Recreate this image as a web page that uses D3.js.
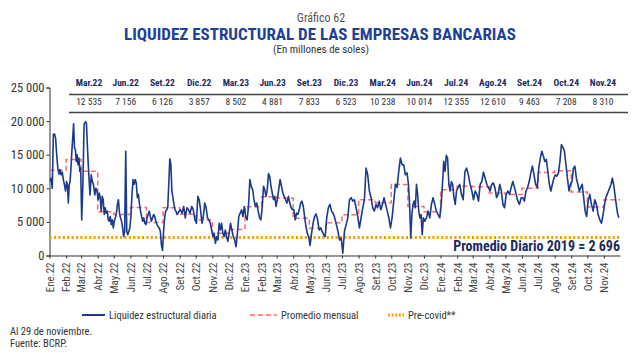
<!DOCTYPE html>
<html>
<head>
<meta charset="utf-8">
<script src="https://cdn.jsdelivr.net/npm/d3@7"></script>
<style>
  body { margin: 0; background: #fff; }
  svg text { font-family: "Liberation Sans Narrow", "Roboto Condensed", "Open Sans", sans-serif; }
</style>
</head>
<body>
<div id="chart"></div>
<script>
// month names used for the x-axis labels
const monthNames = ["Ene", "Feb", "Mar", "Abr", "May", "Jun", "Jul", "Ago", "Set", "Oct", "Nov", "Dic"];

// table on top of the chart
const tableMonths = ["Mar.22", "Jun.22", "Set.22", "Dic.22", "Mar.23", "Jun.23", "Set.23", "Dic.23",
  "Mar.24", "Jun.24", "Jul.24", "Ago.24", "Set.24", "Oct.24", "Nov.24"];
const tableValues = [12535, 7156, 6126, 3857, 8502, 4881, 7833, 6523, 10238, 10014, 12355, 12610, 9463, 7208, 8310];

// Promedio mensual, Ene.22 .. Nov.24
const monthlyAvg = [12700, 14300, 12535, 6500, 6100, 7156, 4900, 7100, 6126, 5300, 3300, 3857,
  7260, 8750, 8502, 5530, 4050, 4881, 6075, 8300, 7833, 10560, 7300, 6523,
  9800, 10300, 10238, 9300, 9060, 10014, 12355, 12610, 9463, 7208, 8310];

// Liquidez estructural diaria, one list per month
const daily = [
  [11000, 11500, 10000, 18000, 18100, 17500, 15000, 13000, 12100, 12800, 12000, 12400, 11300, 10500, 9600],
  [11000, 10500, 7800, 10500, 11000, 13000, 15500, 17500, 19600, 16000, 15800, 14000, 15000, 13500, 14500, 12500, 13000],
  [5300, 10500, 19500, 19900, 19700, 15500, 12000, 9000, 12000, 11000, 10500, 9000, 10000, 9500],
  [8300, 9300, 8600, 6600, 8800, 8300, 6100, 7100, 6300, 6600, 5300, 5100, 5800, 4600, 5300, 4100],
  [5100, 5600, 6300, 7600, 8300, 6300, 5600, 5100, 4100, 2800, 3600, 15500, 3600, 3100, 3600, 4100],
  [5800, 9100, 11300, 10600, 11300, 10800, 8600, 9100, 7600, 6600, 5800, 5100, 5600, 4800, 4600],
  [5600, 6100, 6600, 5800, 5100, 5600, 6100, 5800, 5100, 4600, 4300, 4100, 3600, 1600, 750],
  [3600, 5600, 6600, 6800, 7100, 10600, 14400, 13600, 9600, 8600, 7600, 6800, 6600, 6100, 6300, 6600],
  [6800, 6300, 7300, 5600, 7100, 6800, 6300, 7300, 6800, 5300],
  [4800, 8800, 8300, 6800, 4800, 5800, 7800, 7100, 5600, 5300, 4800, 3800],
  [2800, 3300, 1800, 2800, 2300, 4800, 3800, 4800, 3300, 2800, 3800, 2800, 2100],
  [3300, 4800, 3800, 2800, 2300, 1300, 3300, 5800, 6300, 6800, 5800, 7300],
  [5800, 5300, 7300, 11300, 10300, 9800, 8300, 7300, 7800, 6600, 5600, 5300],
  [7300, 10300, 9800, 8800, 9800, 12200, 11700, 10300, 9300, 8300, 8800, 7300],
  [8300, 9800, 11300, 10300, 9300, 8800, 8300, 7800, 8800, 7800, 7100, 6800],
  [6800, 5300, 6300, 6100, 6800, 7800, 8100, 7300, 5800, 4300, 3300, 2800],
  [1500, 3300, 4800, 5800, 6200, 5300, 3800, 4100, 3600, 3100, 2800],
  [5600, 7100, 7600, 6600, 6300, 5600, 4600, 3600, 2300, 2600],
  [350, 3600, 4600, 5600, 8300, 8600, 8100, 8300, 7100, 5800],
  [4100, 5600, 7100, 8300, 13000, 12000, 9600, 8600, 7100, 6600],
  [7600, 7100, 8100, 6800, 7600, 8600, 7600, 6600, 5600, 4100],
  [5600, 8100, 10600, 10100, 12500, 14500, 13500, 13500, 12000, 12300],
  [10600, 7600, 2600, 6100, 7600, 8100, 7100, 10600, 9100, 6600, 5600, 6100, 3100, 5600],
  [5100, 5600, 6600, 5600, 7600, 8600, 7600, 6600, 6100, 5600],
  [7600, 10600, 14000, 12500, 14900, 14500, 10600, 9600, 11000, 10600, 8600, 7600, 9600],
  [10100, 10600, 9100, 8300, 12500, 13000, 12000, 10600, 9600],
  [8300, 9600, 9100, 8100, 10600, 11000, 12400, 11500, 10600, 10100],
  [9600, 10600, 10800, 10100, 8600, 9100, 10600, 9600, 7600, 7100],
  [9100, 9600, 9100, 10100, 11000, 10100, 9100, 8100, 7600, 8600],
  [8600, 8100, 9600, 10100, 11000, 12300, 13300, 12000, 10600, 10100],
  [13000, 14500, 15500, 14800, 14000, 14300, 12500, 10600, 9600, 10600, 11500],
  [12000, 11800, 12300, 14000, 16500, 16100, 15500, 13500, 11500, 9600, 10600],
  [11000, 13000, 13300, 11500, 10600, 9600, 10100, 10600, 8600, 6600, 5800],
  [8100, 9100, 7600, 6600, 8300, 7600, 6100, 5300, 4800, 6100],
  [7600, 8600, 9100, 9600, 10100, 10600, 11500, 10600, 9100, 7600, 6300, 5600],
];

const preCovid = 2696;

const drawChart = () => {
  const width = 640;
  const height = 353;
  const plot = { left: 49.5, right: 620, top: 87.5, bottom: 255.5 };

  const months = d3.timeMonth.range(new Date(2022, 0, 1), new Date(2024, 11, 1));
  const endDate = new Date(2024, 11, 1);
  const lastDay = new Date(2024, 10, 30);

  // spread each month's readings evenly over the month
  const dailyPoints = daily.flatMap((vals, k) => {
    const start = months[k];
    const end = k === months.length - 1 ? lastDay : d3.timeMonth.offset(start, 1);
    return vals.map((v, i) => ({
      date: new Date(+start + ((i + 0.5) / vals.length) * (end - start)),
      value: v,
    }));
  });
  const avgPoints = monthlyAvg.map((v, k) => ({ date: months[k], value: v }));
  avgPoints.push({ date: endDate, value: monthlyAvg[monthlyAvg.length - 1] });

  const fmt = (d) => d3.format(",")(d).replace(/,/g, " ");

  const svg = d3
    .select("#chart")
    .append("svg")
    .attr("width", width)
    .attr("height", height);

  // Titles
  svg.append("text")
    .attr("x", 321).attr("y", 22)
    .attr("text-anchor", "middle")
    .attr("font-size", 12)
    .attr("fill", "#555")
    .text("Gráfico 62");
  svg.append("text")
    .attr("x", 320).attr("y", 40)
    .attr("text-anchor", "middle")
    .attr("font-size", 17)
    .attr("font-weight", "bold")
    .attr("fill", "#1f3f98")
    .text("LIQUIDEZ ESTRUCTURAL DE LAS EMPRESAS BANCARIAS");
  svg.append("text")
    .attr("x", 321).attr("y", 53)
    .attr("text-anchor", "middle")
    .attr("font-size", 11)
    .attr("fill", "#333")
    .text("(En millones de soles)");

  // Scales
  const xScale = d3.scaleTime()
    .domain([months[0], endDate])
    .range([plot.left, plot.right]);
  const yScale = d3.scaleLinear()
    .domain([0, 25000])
    .range([plot.bottom, plot.top]);

  // Table
  const colX = d3.scalePoint()
    .domain(tableMonths)
    .range([89, 603]);
  const table = svg.append("g");
  table.selectAll("text.head")
    .data(tableMonths)
    .join("text")
    .attr("class", "head")
    .attr("x", (d) => colX(d))
    .attr("y", 86)
    .attr("text-anchor", "middle")
    .attr("font-size", 9.5)
    .attr("font-weight", "bold")
    .attr("fill", "#1c2a5e")
    .text((d) => d);
  table.selectAll("text.val")
    .data(tableValues)
    .join("text")
    .attr("class", "val")
    .attr("x", (d, i) => colX(tableMonths[i]))
    .attr("y", 105)
    .attr("text-anchor", "middle")
    .attr("font-size", 9.5)
    .attr("fill", "#333")
    .text(fmt);
  table.selectAll("line")
    .data([94.5, 112.5])
    .join("line")
    .attr("x1", 69).attr("x2", 628)
    .attr("y1", (d) => d).attr("y2", (d) => d)
    .attr("stroke", "#444")
    .attr("stroke-width", 1.4);

  // Axes
  const yAxis = d3.axisLeft(yScale)
    .tickValues(d3.range(0, 25001, 5000))
    .tickSize(3)
    .tickFormat(fmt);
  svg.append("g")
    .attr("transform", `translate(${plot.left},0)`)
    .call(yAxis)
    .call((g) => g.select(".domain").attr("stroke", "#333"))
    .call((g) => g.selectAll(".tick line").attr("stroke", "#333"))
    .call((g) => g.selectAll(".tick text")
      .attr("font-size", 12.5)
      .attr("fill", "#333")
      .attr("x", -5));

  const xAxis = d3.axisBottom(xScale)
    .tickValues(months)
    .tickSize(3)
    .tickSizeOuter(0)
    .tickFormat((d) => `${monthNames[d.getMonth()]}.${String(d.getFullYear()).slice(2)}`);
  svg.append("g")
    .attr("transform", `translate(0,${plot.bottom})`)
    .call(xAxis)
    .call((g) => g.select(".domain").attr("stroke", "#333"))
    .call((g) => g.selectAll(".tick line").attr("stroke", "#333"))
    .call((g) => g.selectAll(".tick text")
      .attr("font-size", 11)
      .attr("fill", "#444")
      .attr("transform", "rotate(-90)")
      .attr("text-anchor", "end")
      .attr("dy", "0.35em")
      .attr("x", -7)
      .attr("y", 0));

  // Pre-covid line
  svg.append("line")
    .attr("x1", xScale(months[0]))
    .attr("x2", xScale(endDate))
    .attr("y1", yScale(preCovid))
    .attr("y2", yScale(preCovid))
    .attr("stroke", "#f6a500")
    .attr("stroke-width", 3)
    .attr("stroke-dasharray", "2.2,2.2");

  // Monthly average
  const stepLine = d3.line()
    .x((d) => xScale(d.date))
    .y((d) => yScale(d.value))
    .curve(d3.curveStepAfter);
  svg.append("path")
    .datum(avgPoints)
    .attr("d", stepLine)
    .attr("fill", "none")
    .attr("stroke", "#ff6b6b")
    .attr("stroke-width", 1.5)
    .attr("stroke-dasharray", "5,3");

  // Daily line
  const line = d3.line()
    .x((d) => xScale(d.date))
    .y((d) => yScale(d.value));
  svg.append("path")
    .datum(dailyPoints)
    .attr("d", line)
    .attr("fill", "none")
    .attr("stroke", "#1b3a8c")
    .attr("stroke-width", 1.6)
    .attr("stroke-linejoin", "round");

  svg.append("text")
    .attr("x", plot.right)
    .attr("y", 251)
    .attr("text-anchor", "end")
    .attr("font-size", 14)
    .attr("font-weight", "bold")
    .attr("fill", "#1c2a5e")
    .text(`Promedio Diario 2019 = ${fmt(preCovid)}`);

  // Legend
  const legend = svg.append("g").attr("transform", "translate(0,315)");
  const items = [
    { x: 82, label: "Liquidez estructural diaria", color: "#1b3a8c", dash: null, w: 2, len: 23 },
    { x: 250, label: "Promedio mensual", color: "#ff6b6b", dash: "5,3", w: 1.5, len: 27 },
    { x: 388, label: "Pre-covid**", color: "#f6a500", dash: "2,1.6", w: 3, len: 16 },
  ];
  items.forEach((it) => {
    legend.append("line")
      .attr("x1", it.x).attr("x2", it.x + it.len)
      .attr("stroke", it.color)
      .attr("stroke-width", it.w)
      .attr("stroke-dasharray", it.dash);
    legend.append("text")
      .attr("x", it.x + it.len + 4)
      .attr("dy", "0.35em")
      .attr("font-size", 10.5)
      .attr("fill", "#333")
      .text(it.label);
  });

  // Notes
  svg.append("text")
    .attr("x", 10).attr("y", 335)
    .attr("font-size", 10.5)
    .attr("fill", "#333")
    .text("Al 29 de noviembre.");
  svg.append("text")
    .attr("x", 10).attr("y", 347)
    .attr("font-size", 10.5)
    .attr("fill", "#333")
    .text("Fuente: BCRP.");
};

drawChart();
</script>
</body>
</html>
